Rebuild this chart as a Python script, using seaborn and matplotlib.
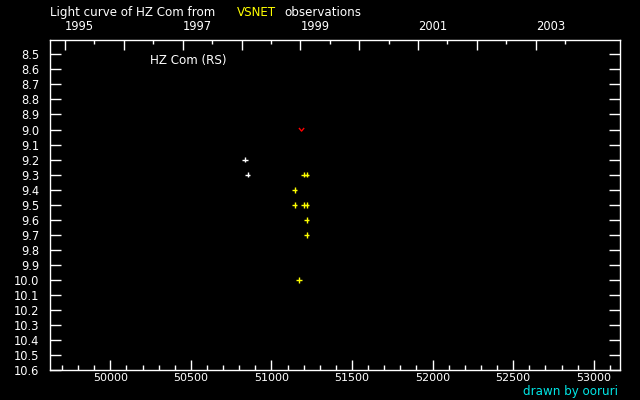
import numpy as np
import pandas as pd
import matplotlib
matplotlib.use("Agg")
import matplotlib.pyplot as plt
from matplotlib.path import Path
from matplotlib.ticker import FixedLocator, MultipleLocator, NullFormatter
import seaborn as sns

# ---- data (JD - 2400000, magnitude) ----
vis_jd = [50837, 50852]
vis_mag = [9.2, 9.3]
ccd_jd = [51202, 51218, 51144, 51144, 51202, 51218, 51218, 51218, 51172]
ccd_mag = [9.3, 9.3, 9.4, 9.5, 9.5, 9.5, 9.6, 9.7, 10.0]
lim_jd = [51187]
lim_mag = [9.0]

x_ticks = [50000, 50500, 51000, 51500, 52000, 52500, 53000]
y_ticks = [8.5, 8.6, 8.7, 8.8, 8.9, 9.0, 9.1, 9.2, 9.3, 9.4, 9.5, 9.6, 9.7,
           9.8, 9.9, 10.0, 10.1, 10.2, 10.3, 10.4, 10.5, 10.6]
years = [1995, 1996, 1997, 1998, 1999, 2000, 2001, 2002, 2003]
year_labels = ["1995", "", "1997", "", "1999", "", "2001", "", "2003"]

sns.set_style("dark", {"axes.facecolor": "black", "figure.facecolor": "black",
                       "axes.edgecolor": "white", "text.color": "white",
                       "xtick.color": "white", "ytick.color": "white",
                       "axes.grid": False})
plt.rcParams["font.family"] = ["DejaVu Sans"]

fig = plt.figure(figsize=(6.4, 4.0), dpi=100, facecolor="black")
ax = fig.add_axes([50/640, 1 - 370.3/400, 570/640, 330/400])
ax.set_facecolor("black")

df = pd.DataFrame({
    "jd": vis_jd + ccd_jd,
    "mag": vis_mag + ccd_mag,
    "kind": ["vis"] * len(vis_jd) + ["ccd"] * len(ccd_jd),
})
sns.scatterplot(data=df, x="jd", y="mag", hue="kind",
                palette={"vis": "white", "ccd": "#ffff00"},
                marker="+", s=16, linewidth=1.0, legend=False, ax=ax)

vpath = Path([(-1, 0.6), (0, -0.6), (1, 0.6)],
             [Path.MOVETO, Path.LINETO, Path.LINETO])
sns.scatterplot(x=lim_jd, y=lim_mag, marker=vpath, s=14, facecolor="none",
                edgecolor="#ff0000", linewidth=1.0, color="#ff0000",
                legend=False, ax=ax)

ax.set_xlim(49626, 53163)
ax.set_ylim(10.6, 8.407)
ax.set_xlabel("")
ax.set_ylabel("")

for s in ax.spines.values():
    s.set_color("white")
    s.set_linewidth(1.0)

tfs = 8.3
ax.xaxis.set_major_locator(FixedLocator(x_ticks))
ax.xaxis.set_minor_locator(MultipleLocator(100))
ax.yaxis.set_major_locator(FixedLocator(y_ticks))
ax.set_yticklabels([f"{v:.1f}" for v in y_ticks])
ax.tick_params(axis="x", which="major", direction="in", length=7.5, width=1,
               labelsize=8, pad=2, colors="white", bottom=True, top=False)
ax.tick_params(axis="x", which="minor", direction="in", length=3.6, width=1,
               colors="white", bottom=True, top=False)
ax.tick_params(axis="y", which="major", direction="in", length=8, width=1,
               labelsize=tfs, pad=7.5, colors="white", left=True, right=True)

# top axis in calendar years
ax2 = ax.twiny()
ax2.set_xlim(ax.get_xlim())
def jd_of(y, m=1, d=1):
    return pd.Timestamp(year=y, month=m, day=d).to_julian_date() - 2400000
ax2.xaxis.set_major_locator(FixedLocator([jd_of(y) for y in years]))
ax2.xaxis.set_minor_locator(FixedLocator([jd_of(y, 7, 2) for y in years]))
ax2.set_xticklabels(year_labels)
ax2.xaxis.set_minor_formatter(NullFormatter())
ax2.tick_params(axis="x", which="major", direction="in", length=7.5, width=1,
                labelsize=tfs, pad=5, colors="white")
ax2.tick_params(axis="x", which="minor", direction="in", length=3, width=1,
                colors="white")
for lbl in ax2.get_xticklabels():
    lbl.set_ha("left")
for s in ax2.spines.values():
    s.set_visible(False)

fs = 8.6
fig.text(50/640, 1 - 12.5/400, "Light curve of HZ Com from", color="white",
         fontsize=fs, ha="left", va="center")
fig.text(237/640, 1 - 12.5/400, "VSNET", color="#ffff00",
         fontsize=fs, ha="left", va="center")
fig.text(284/640, 1 - 12.5/400, "observations", color="white",
         fontsize=fs, ha="left", va="center")
fig.text(150/640, 1 - 60.5/400, "HZ Com (RS)", color="white",
         fontsize=8.6, ha="left", va="center")
fig.text(618/640, 1 - 391.5/400, "drawn by ooruri", color="#00e6e6",
         fontsize=fs, ha="right", va="center")

fig.savefig("out.png", dpi=100, facecolor="black")
